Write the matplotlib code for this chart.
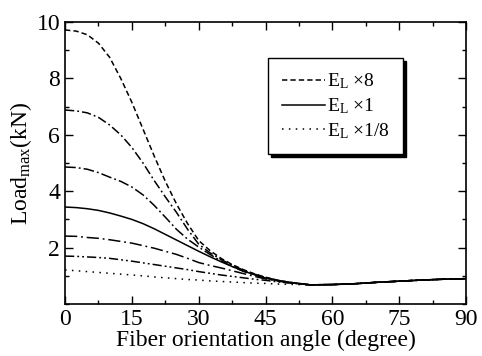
import matplotlib
matplotlib.use('Agg')
import matplotlib.pyplot as plt
from matplotlib.ticker import MultipleLocator

plt.rcParams['font.family'] = ['Liberation Serif']
plt.rcParams['mathtext.fontset'] = 'custom'
plt.rcParams['mathtext.rm'] = 'Liberation Serif'
plt.rcParams['mathtext.it'] = 'Liberation Serif:italic'

# fiber orientation angle (degree)
angle = [0, 2.5, 5, 7.5, 10, 12.5, 15, 17.5, 20, 22.5, 25, 27.5, 30, 32.5, 35,
         37.5, 40, 42.5, 45, 47.5, 50, 55, 60, 65, 70, 75, 80, 85, 90]

# common tail after the curves merge (55..90 deg)
tail = [0.68, 0.69, 0.72, 0.77, 0.81, 0.85, 0.88, 0.90]

load_x8 = [9.72, 9.68, 9.55, 9.25, 8.75, 8.00, 7.15, 6.20, 5.25, 4.35, 3.55,
           2.85, 2.25, 1.90, 1.62, 1.40, 1.22, 1.07, 0.95, 0.85, 0.78] + tail
load_x4 = [6.88, 6.85, 6.78, 6.62, 6.35, 6.00, 5.55, 5.00, 4.38, 3.80, 3.25,
           2.65, 2.12, 1.82, 1.58, 1.38, 1.20, 1.06, 0.94, 0.85, 0.78] + tail
load_x2 = [4.86, 4.84, 4.78, 4.66, 4.50, 4.35, 4.15, 3.87, 3.50, 3.08, 2.65,
           2.30, 2.02, 1.76, 1.53, 1.33, 1.16, 1.03, 0.92, 0.84, 0.77] + tail
load_x1 = [3.44, 3.42, 3.38, 3.32, 3.23, 3.12, 3.00, 2.85, 2.67, 2.47, 2.27,
           2.07, 1.87, 1.68, 1.50, 1.33, 1.17, 1.04, 0.92, 0.84, 0.77] + tail
load_x1_2 = [2.41, 2.40, 2.36, 2.33, 2.28, 2.22, 2.16, 2.07, 1.98, 1.87, 1.76,
             1.62, 1.47, 1.37, 1.28, 1.18, 1.08, 0.98, 0.89, 0.82, 0.76] + tail
load_x1_4 = [1.70, 1.69, 1.67, 1.65, 1.62, 1.57, 1.52, 1.46, 1.40, 1.34, 1.28,
             1.22, 1.15, 1.09, 1.03, 0.98, 0.93, 0.88, 0.84, 0.79, 0.75] + tail
load_x1_8 = [1.21, 1.18, 1.15, 1.12, 1.09, 1.06, 1.03, 1.00, 0.96, 0.93, 0.90,
             0.87, 0.85, 0.82, 0.80, 0.78, 0.76, 0.74, 0.73, 0.71, 0.70] + tail

fig = plt.figure(figsize=(4.82, 3.56), dpi=100)
ax = fig.add_axes([0.135, 0.146, 0.832, 0.792])

lw = 1.1
l8, = ax.plot(angle, load_x8, color='black', lw=lw, dashes=(3.5, 2))
ax.plot(angle, load_x4, color='black', lw=lw, dashes=(6, 2, 1.2, 2))
ax.plot(angle, load_x2, color='black', lw=lw, dashes=(7, 2, 1.2, 2))
l1, = ax.plot(angle, load_x1, color='black', lw=lw, ls='-')
ax.plot(angle, load_x1_2, color='black', lw=lw, dashes=(8, 2.5, 1.2, 2.5))
ax.plot(angle, load_x1_4, color='black', lw=lw, dashes=(6, 2, 1.2, 2, 1.2, 2))
l18, = ax.plot(angle, load_x1_8, color='black', lw=lw, dashes=(1, 3.5))

ax.set_xlim(0, 90)
ax.set_ylim(0, 10)
ax.xaxis.set_major_locator(MultipleLocator(15))
ax.xaxis.set_minor_locator(MultipleLocator(7.5))
ax.set_yticks([2, 4, 6, 8, 10])
ax.yaxis.set_minor_locator(MultipleLocator(1))
ax.tick_params(which='both', direction='in', top=True, right=True, labelsize=17)
ax.tick_params(which='major', length=6, width=1)
ax.tick_params(which='minor', length=3, width=1)
for sp in ax.spines.values():
    sp.set_linewidth(1.2)

ax.set_xlabel('Fiber orientation angle (degree)', fontsize=17, labelpad=0)
ax.set_ylabel(r'Load$_{\rm max}$(kN)', fontsize=17, labelpad=2)

leg = ax.legend([l8, l1, l18],
                [r'E$_{\rm L}$ $\times$8', r'E$_{\rm L}$ $\times$1', r'E$_{\rm L}$ $\times$1/8'],
                loc='upper left', bbox_to_anchor=(0.507, 0.872), borderaxespad=0,
                fontsize=14, frameon=True, fancybox=False,
                shadow={'color': 'black', 'alpha': 1},
                handlelength=2.2, handletextpad=0.1, borderpad=0.7, labelspacing=0.25)
leg.get_frame().set_edgecolor('black')
leg.get_frame().set_linewidth(1.0)

fig.savefig('out.png', dpi=100)
